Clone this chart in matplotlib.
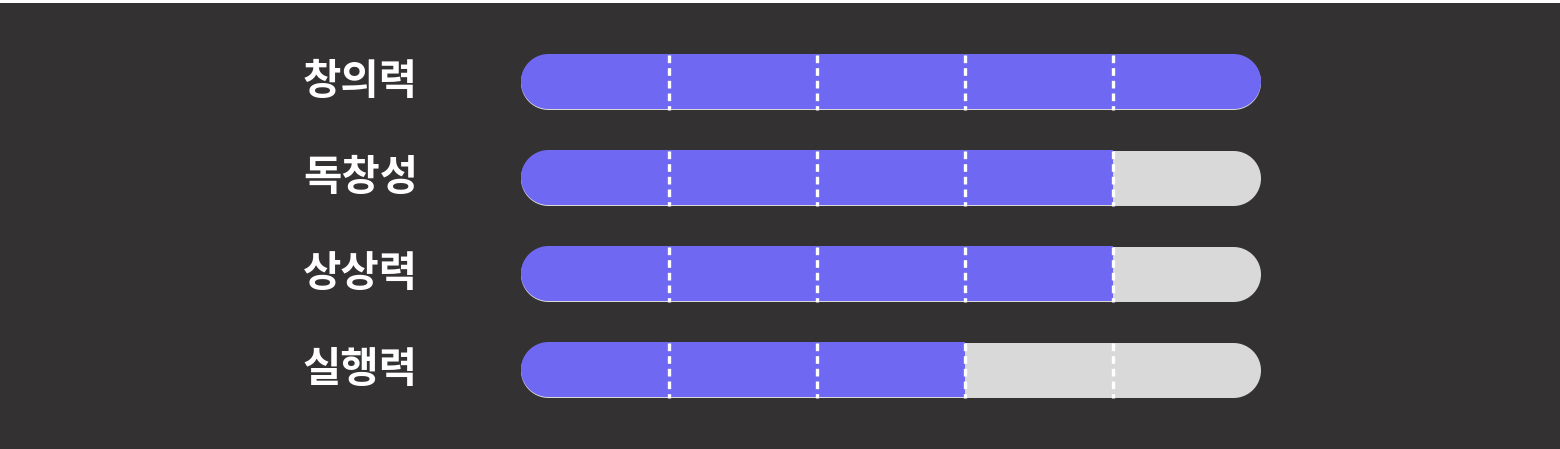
import matplotlib
matplotlib.use("Agg")
import numpy as np
import matplotlib.pyplot as plt
from matplotlib.patches import Rectangle, Polygon

# ---- data ----
categories = ["창의력", "독창성", "상상력", "실행력"]
scores = [5, 4, 4, 3]
max_score = 5
divisions = [1, 2, 3, 4]

# ---- style ----
BG = "#333132"
PURPLE = "#6E68F2"
TRACK = "#D9D9D9"

W, H, DPI = 1560, 449, 100
plt.rcParams['font.family'] = ['Noto Sans CJK KR', 'DejaVu Sans']

fig = plt.figure(figsize=(W / DPI, H / DPI), dpi=DPI, facecolor=BG)
# thin white strip at the very top
fig.patches.append(Rectangle((0, 1 - 3 / H), 1, 3 / H, transform=fig.transFigure,
                             facecolor="white", edgecolor="none", zorder=0))

# axes geometry in pixels
x0_px, x1_px = 521, 1261
row_px = 96
first_center_px = 82.5
n = len(categories)
top_px = first_center_px - row_px / 2
bottom_px = top_px + row_px * n
ax = fig.add_axes([x0_px / W, (H - bottom_px) / H, (x1_px - x0_px) / W, (bottom_px - top_px) / H])
ax.set_xlim(0, max_score)
ax.set_ylim(n - 0.5, -0.5)
ax.axis("off")
ax.patch.set_alpha(0)

unit_x_px = (x1_px - x0_px) / max_score
bar_h_px = 55
bar_h = bar_h_px / row_px
rx = (bar_h_px / 2) / unit_x_px          # cap radius in x data units
ry = bar_h / 2                            # cap radius in y data units
shift = 1 / row_px                        # purple sits 1px higher than the track


def pill(xa, xb, yc, round_left=True, round_right=True):
    pts = []
    if round_left:
        t = np.linspace(np.pi / 2, 3 * np.pi / 2, 60)
        pts += list(zip(xa + rx + rx * np.cos(t), yc + ry * np.sin(t)))
    else:
        pts += [(xa, yc + ry), (xa, yc - ry)]
    if round_right:
        t = np.linspace(-np.pi / 2, np.pi / 2, 60)
        pts += list(zip(xb - rx + rx * np.cos(t), yc + ry * np.sin(t)))
    else:
        pts += [(xb, yc - ry), (xb, yc + ry)]
    return Polygon(pts, closed=True, clip_on=False, edgecolor="none")


for i, (cat, val) in enumerate(zip(categories, scores)):
    y = i
    track = pill(0, max_score, y)
    track.set_facecolor(TRACK)
    track.set_zorder(1)
    ax.add_patch(track)

    fill = pill(0, val, y - shift, True, val >= max_score)
    fill.set_facecolor(PURPLE)
    fill.set_zorder(2)
    ax.add_patch(fill)

    ax.vlines(divisions, y - bar_h / 2, y + bar_h / 2, colors="white",
              linewidth=2.4, linestyles=(0, (2.3, 1.5)), zorder=3)

    ax.text(-(x0_px - 418) / unit_x_px, y, cat, ha="right", va="center",
            color="white", fontsize=30, fontweight="bold", zorder=4)

fig.savefig("out.png", dpi=DPI, facecolor=BG)
